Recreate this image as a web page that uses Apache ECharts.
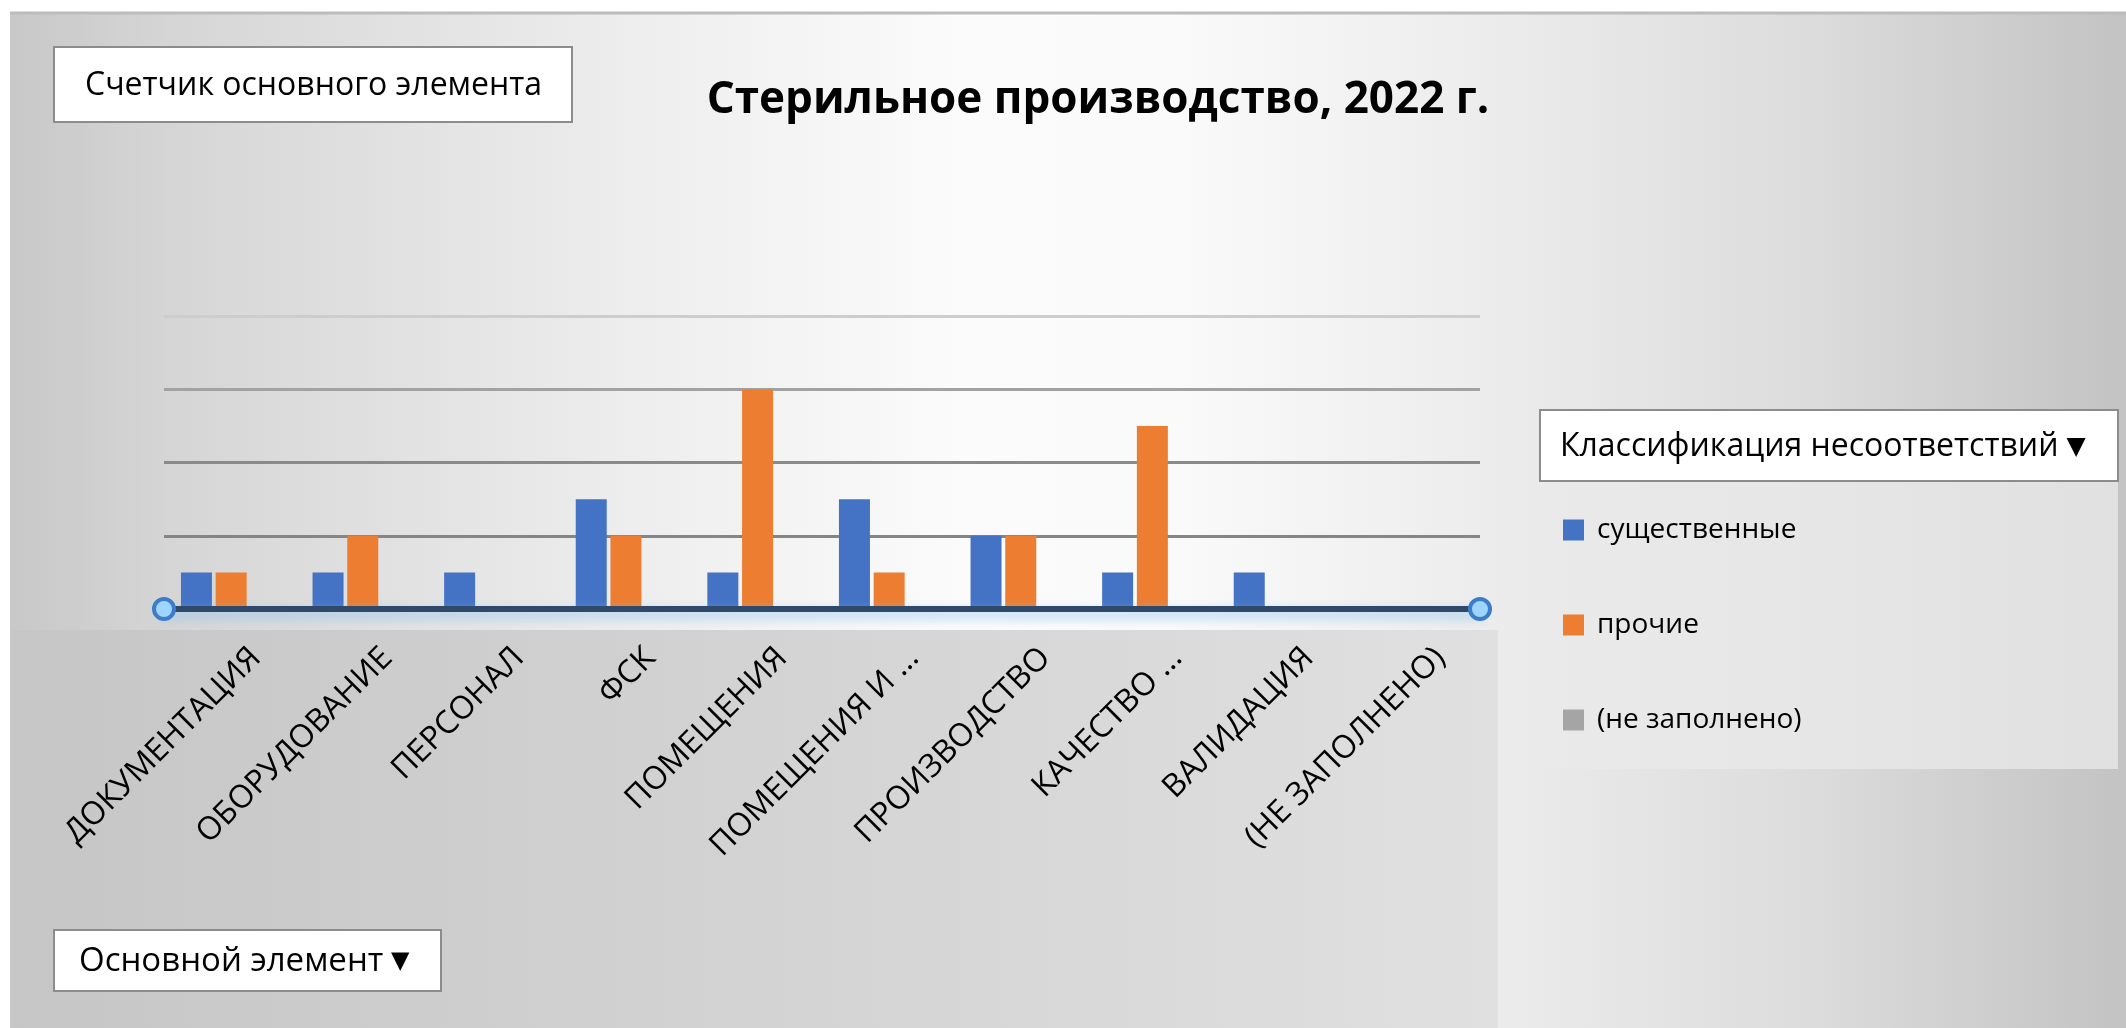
<!DOCTYPE html>
<html><head><meta charset="utf-8">
<script src="https://cdn.jsdelivr.net/npm/echarts@6/dist/echarts.min.js"></script>
<style>html,body{margin:0;padding:0;background:#fff}#c{width:2126px;height:1028px}</style>
</head><body><div id="c"></div>
<script>
// ---- data ----
const categories = ['ДОКУМЕНТАЦИЯ','ОБОРУДОВАНИЕ','ПЕРСОНАЛ','ФСК','ПОМЕЩЕНИЯ','ПОМЕЩЕНИЯ И ...','ПРОИЗВОДСТВО','КАЧЕСТВО ...','ВАЛИДАЦИЯ','(НЕ ЗАПОЛНЕНО)'];
const essential = [1, 1, 1, 3, 1, 3, 2, 1, 1, null];
const other     = [1, 2, null, 2, 6, 1, 2, 5, null, null];
const unfilled  = [null, null, null, null, null, null, null, null, null, null];
const seriesNames = ['существенные', 'прочие', '(не заполнено)'];
const yMin = 0, yMax = 8, yInterval = 2;
const titleText = 'Стерильное производство, 2022 г.';
const fieldValue = 'Счетчик основного элемента';
const fieldLegend = 'Классификация несоответствий';
const fieldAxis = 'Основной элемент';

// ---- layout ----
const FONT = 'Open Sans';
const G1_LEFT = 148, G2_LEFT = 164, G3_LEFT = 190, G_W = 1316, G_TOP = 316, G_H = 293;
const chart = echarts.init(document.getElementById('c'));

const bgGrad = new echarts.graphic.LinearGradient(0, 0, 1, 0, [
  {offset: 0, color: '#c8c8c8'}, {offset: 0.08, color: '#d6d6d6'},
  {offset: 0.3, color: '#eeeeee'}, {offset: 0.45, color: '#fbfbfb'},
  {offset: 0.55, color: '#fafafa'}, {offset: 0.7, color: '#ececec'},
  {offset: 0.85, color: '#dcdcdc'}, {offset: 1, color: '#c3c3c3'}]);
const blockGrad = new echarts.graphic.LinearGradient(0, 0, 1, 0, [
  {offset: 0, color: '#c6c6c6'}, {offset: 1, color: '#e0e0e0'}]);

const graphics = [
  {type: 'rect', z: -20, silent: true, shape: {x: 0, y: 0, width: 2126, height: 1028}, style: {fill: '#ffffff'}},
  {type: 'rect', z: -19, silent: true, shape: {x: 10, y: 13, width: 2116, height: 1015}, style: {fill: bgGrad}},
  {type: 'line', z: -18, silent: true, shape: {x1: 10, y1: 13, x2: 2126, y2: 13}, style: {stroke: '#bcbcbc', lineWidth: 3}},
  {type: 'rect', z: -18, silent: true, shape: {x: 12, y: 630, width: 1486, height: 398}, style: {fill: blockGrad}},
  {type: 'rect', z: -18, silent: true, shape: {x: 1540, y: 481, width: 578, height: 288}, style: {fill: 'rgba(234,234,234,0.75)'}},
  // field buttons
  {type: 'rect', z: -5, shape: {x: 54, y: 47, width: 518, height: 75}, style: {fill: '#fff', stroke: '#8c8c8c', lineWidth: 2}},
  {type: 'text', z: -4, style: {x: 85, y: 86, text: fieldValue, fontSize: 32, fontFamily: FONT, fill: '#000', verticalAlign: 'middle'}},
  {type: 'rect', z: -5, shape: {x: 1540, y: 410, width: 578, height: 71}, style: {fill: '#fff', stroke: '#8c8c8c', lineWidth: 2}},
  {type: 'text', z: -4, style: {x: 1560, y: 447, text: '{t|' + fieldLegend + '}{a| ▼}', fontFamily: FONT, fill: '#000', verticalAlign: 'middle',
     rich: {t: {fontSize: 32, fontFamily: FONT}, a: {fontSize: 25, fontFamily: 'DejaVu Sans'}}}},
  {type: 'rect', z: -5, shape: {x: 54, y: 930, width: 387, height: 61}, style: {fill: '#fff', stroke: '#8c8c8c', lineWidth: 2}},
  {type: 'text', z: -4, style: {x: 79, y: 962, text: '{t|' + fieldAxis + '}{a| ▼}', fontFamily: FONT, fill: '#000', verticalAlign: 'middle',
     rich: {t: {fontSize: 33, fontFamily: FONT}, a: {fontSize: 24, fontFamily: 'DejaVu Sans'}}}},
  // title
  {type: 'text', z: 5, style: {x: 1098, y: 100, text: titleText, fontSize: 44, fontWeight: 'bold', fontFamily: FONT, fill: '#000', align: 'center', verticalAlign: 'middle'}},
  // axis end handles
  {type: 'circle', z: 20, shape: {cx: G2_LEFT, cy: G_TOP + G_H, r: 10}, style: {fill: '#9dd5ff', stroke: '#3d7cc9', lineWidth: 4}},
  {type: 'circle', z: 20, shape: {cx: G2_LEFT + G_W, cy: G_TOP + G_H, r: 10}, style: {fill: '#9dd5ff', stroke: '#3d7cc9', lineWidth: 4}}
];

const option = {
  animation: false,
  textStyle: {fontFamily: FONT},
  graphic: graphics,
  grid: [
    {left: G1_LEFT, width: G_W, top: G_TOP, height: G_H, containLabel: false},
    {left: G2_LEFT, width: G_W, top: G_TOP, height: G_H, containLabel: false},
    {left: G3_LEFT, width: G_W, top: G_TOP, height: G_H, containLabel: false}
  ],
  xAxis: [
    {type: 'category', gridIndex: 0, data: categories, axisLine: {show: false}, axisTick: {show: false}, axisLabel: {show: false}},
    {type: 'category', gridIndex: 1, data: categories, z: 10,
     axisLine: {show: true, lineStyle: {color: '#2e4a68', width: 6, shadowColor: 'rgba(130,195,245,0.8)', shadowBlur: 12, shadowOffsetY: 5}},
     axisTick: {show: false}, axisLabel: {show: false}},
    {type: 'category', gridIndex: 2, data: categories,
     axisLine: {show: false}, axisTick: {show: false},
     axisLabel: {rotate: 45, margin: 44, fontSize: 32, color: '#000', fontFamily: FONT, interval: 0}}
  ],
  yAxis: [
    {type: 'value', gridIndex: 0, min: yMin, max: yMax, interval: yInterval, show: false, splitLine: {show: false}},
    {type: 'value', gridIndex: 1, min: yMin, max: yMax, interval: yInterval,
     axisLine: {show: false}, axisTick: {show: false}, axisLabel: {show: false},
     splitLine: {show: true, lineStyle: {width: 3, color: ['#888888', '#858585', '#8a8a8a', '#a2a2a2', '#cdcdcd']}}},
    {type: 'value', gridIndex: 2, min: yMin, max: yMax, interval: yInterval, show: false, splitLine: {show: false}}
  ],
  legend: {
    orient: 'vertical', left: 1558, top: 510, icon: 'rect', itemWidth: 21, itemHeight: 21, itemGap: 65,
    data: seriesNames, selectedMode: false,
    textStyle: {fontSize: 28, fontFamily: FONT, color: '#000', lineHeight: 30, padding: [0, 0, 0, 8]}
  },
  series: [
    {name: seriesNames[0], type: 'bar', xAxisIndex: 0, yAxisIndex: 0, data: essential, barWidth: 31, barGap: '12%', itemStyle: {color: '#4472c4'}},
    {name: seriesNames[1], type: 'bar', xAxisIndex: 0, yAxisIndex: 0, data: other, barWidth: 31, barGap: '12%', itemStyle: {color: '#ed7d31'}},
    {name: seriesNames[2], type: 'bar', xAxisIndex: 1, yAxisIndex: 1, data: unfilled, itemStyle: {color: '#a5a5a5'}}
  ]
};
chart.setOption(option);
</script>
</body></html>
